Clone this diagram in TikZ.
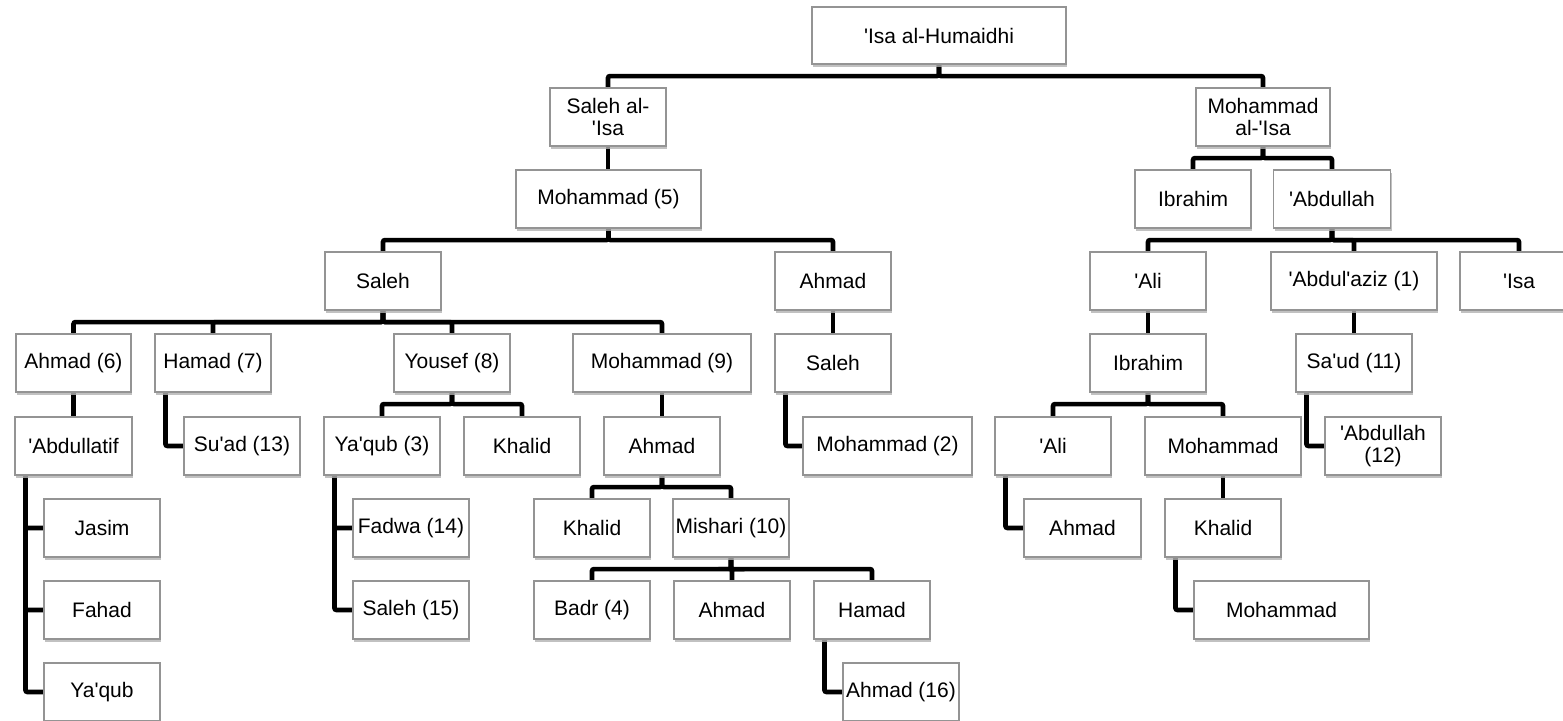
\documentclass[tikz,border=0pt]{standalone}
\usepackage{fontspec}
\newfontfamily\lsans{Liberation Sans}
\usetikzlibrary{shadows,backgrounds}
\tikzset{
  box/.style={draw=black!42, line width=1.1pt, fill=white, minimum width=116pt,
    minimum height=58pt, inner sep=0pt, align=center,
    font=\lsans\fontsize{21}{22}\selectfont,
    drop shadow={shadow xshift=1pt, shadow yshift=-2.5pt, fill=black!30, opacity=0.8}},
  conn/.style={line width=4.6pt, draw=black, rounded corners=2pt},
}
\newcommand\org[2]{\draw[conn] (#1.south) -- ++(0,-11.5pt) -| (#2.north);}
\newcommand\str[2]{\draw[conn] (#1.south) -- (#1.south |- #2.north);}
\newcommand\elb[2]{\draw[conn] ([xshift=11pt]#1.south west) |- (#2.west);}
\begin{document}
\begin{tikzpicture}[x=1pt,y=-1pt]
\useasboundingbox (0,0) rectangle (1563,720);
\clip (0,0) rectangle (1563,720);
% row 0
\node[box, minimum width=254pt, minimum height=57pt] (root) at (939,35.5) {'Isa al-Humaidhi};
% row 1
\node[box] (s1) at (608,117) {Saleh al-\\'Isa};
\node[box, minimum width=134pt] (m1) at (1263,117) {Mohammad\\al-'Isa};
% row 2
\node[box, minimum width=185pt] (m5) at (608.5,199) {Mohammad (5)};
\node[box] (ib1) at (1193,199) {Ibrahim};
\node[box, minimum width=117pt] (ab1) at (1332,199) {'Abdullah};
% row 3
\node[box] (sal) at (383,281) {Saleh};
\node[box] (ahm) at (833,281) {Ahmad};
\node[box] (ali1) at (1148,281) {'Ali};
\node[box, minimum width=166pt] (aziz) at (1354,281) {'Abdul'aziz (1)};
\node[box, minimum width=118pt] (isa) at (1519,281) {'Isa};
% row 4
\node[box, minimum width=115pt] (a6) at (73.5,363) {Ahmad (6)};
\node[box] (h7) at (213,363) {Hamad (7)};
\node[box] (y8) at (452,363) {Yousef (8)};
\node[box, minimum width=178pt] (m9) at (662,363) {Mohammad (9)};
\node[box] (sal2) at (833,363) {Saleh};
\node[box] (ib2) at (1148,363) {Ibrahim};
\node[box] (saud) at (1354,363) {Sa'ud (11)};
% row 5
\node[box, minimum width=117pt] (abl) at (73.5,446) {'Abdullatif};
\node[box] (suad) at (242,446) {Su'ad (13)};
\node[box] (yq3) at (382,446) {Ya'qub (3)};
\node[box] (kh1) at (522,446) {Khalid};
\node[box] (ah2) at (662,446) {Ahmad};
\node[box, minimum width=169pt] (m2) at (887.5,446) {Mohammad (2)};
\node[box] (ali2) at (1053,446) {'Ali};
\node[box, minimum width=156pt] (moh) at (1223,446) {Mohammad};
\node[box] (ab12) at (1383,446) {'Abdullah\\(12)};
% row 6
\node[box] (jas) at (102,528) {Jasim};
\node[box] (fad) at (411,528) {Fadwa (14)};
\node[box] (kh2) at (592,528) {Khalid};
\node[box] (mis) at (731,528) {Mishari (10)};
\node[box, minimum width=117pt] (ah3) at (1082.5,528) {Ahmad};
\node[box] (kh3) at (1223,528) {Khalid};
% row 7
\node[box] (fah) at (102,610) {Fahad};
\node[box] (sal15) at (411,610) {Saleh (15)};
\node[box] (badr) at (592,610) {Badr (4)};
\node[box] (ah4) at (732,610) {Ahmad};
\node[box] (ham) at (872,610) {Hamad};
\node[box, minimum width=175pt] (moh2) at (1281.5,610) {Mohammad};
% row 8
\node[box] (yq) at (102,692) {Ya'qub};
\node[box] (a16) at (901,692) {Ahmad (16)};
% connectors
\begin{scope}[on background layer]
\org{root}{s1} \org{root}{m1}
\str{s1}{m5}
\org{m5}{sal} \org{m5}{ahm}
\org{m1}{ib1} \org{m1}{ab1}
\org{ab1}{ali1} \org{ab1}{aziz} \org{ab1}{isa}
\org{sal}{a6} \org{sal}{h7} \org{sal}{y8} \org{sal}{m9}
\str{ahm}{sal2}
\str{ali1}{ib2}
\str{aziz}{saud}
\str{a6}{abl}
\elb{h7}{suad}
\org{y8}{yq3} \org{y8}{kh1}
\str{m9}{ah2}
\elb{sal2}{m2}
\org{ib2}{ali2} \org{ib2}{moh}
\elb{saud}{ab12}
\elb{abl}{jas} \elb{abl}{fah} \elb{abl}{yq}
\elb{yq3}{fad} \elb{yq3}{sal15}
\org{ah2}{kh2} \org{ah2}{mis}
\elb{ali2}{ah3}
\str{moh}{kh3}
\org{mis}{badr} \org{mis}{ah4} \org{mis}{ham}
\elb{kh3}{moh2}
\elb{ham}{a16}
\end{scope}
\end{tikzpicture}
\end{document}
